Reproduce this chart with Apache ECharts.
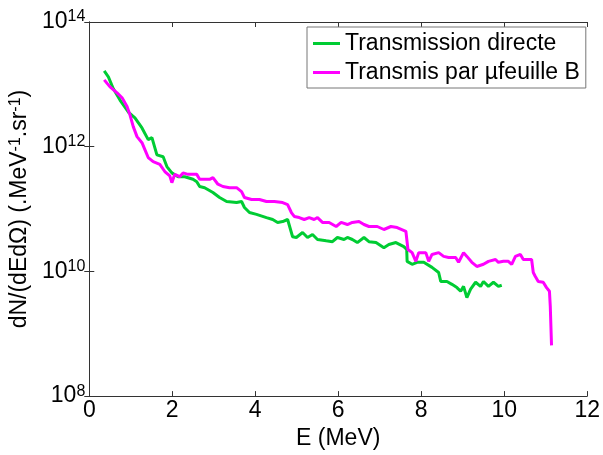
<!DOCTYPE html>
<html>
<head>
	<meta charset="UTF-8">
	<title></title>
	<script src="https://cdn.jsdelivr.net/npm/echarts@6/dist/echarts.min.js"></script>
	<style>
		html, body { margin: 0; padding: 0; background: #fff; }
	</style>
</head>
<body>
	<div id="main" style="width: 603px;height:455px;"></div>
	<script type="text/javascript">
		// Transmission directe
		var directE = [0.36, 0.46, 0.58, 0.74, 0.94, 1.10, 1.27, 1.42, 1.51, 1.63, 1.78, 1.87, 1.99, 2.14, 2.30, 2.50, 2.59, 2.66, 2.78, 2.98,
			3.14, 3.31, 3.55, 3.67, 3.74, 3.86, 4.03, 4.27, 4.42, 4.54, 4.66, 4.78, 4.90, 4.99, 5.14, 5.26, 5.38, 5.50, 5.71, 5.86,
			5.98, 6.14, 6.22, 6.34, 6.46, 6.62, 6.74, 6.91, 7.10, 7.22, 7.39, 7.58, 7.65, 7.66, 7.78, 7.90, 8.06, 8.26, 8.42, 8.47,
			8.62, 8.74, 8.86, 8.95, 9.02, 9.10, 9.19, 9.31, 9.43, 9.50, 9.62, 9.74, 9.86, 9.94];
		var directN = [1.64e13, 1.32e13, 8.5e12, 5.6e12, 3.6e12, 2.9e12, 2.0e12, 1.3e12, 1.4e12, 7.4e11, 6.9e11, 4.8e11, 3.8e11, 3.3e11, 3.3e11, 3.0e11, 2.75e11, 2.3e11, 2.2e11, 1.84e11,
			1.53e11, 1.32e11, 1.27e11, 1.32e11, 1.06e11, 8.8e10, 8.2e10, 7.3e10, 6.8e10, 6.1e10, 6.3e10, 6.8e10, 3.6e10, 3.5e10, 4.2e10, 3.5e10, 3.9e10, 3.25e10, 3.1e10, 3.0e10,
			3.5e10, 3.25e10, 3.5e10, 3.25e10, 2.9e10, 3.5e10, 3.0e10, 2.9e10, 2.4e10, 2.7e10, 2.9e10, 2.5e10, 2.25e10, 1.45e10, 1.3e10, 1.4e10, 1.4e10, 1.16e10, 9.6e9, 6.9e9,
			6.9e9, 6.2e9, 5.5e9, 4.8e9, 5.75e9, 3.8e9, 5.2e9, 6.7e9, 5.75e9, 6.9e9, 5.75e9, 6.7e9, 5.75e9, 6.0e9];

		// Transmis par µfeuille B
		var feuilleE = [0.36, 0.50, 0.67, 0.79, 0.91, 0.98, 1.06, 1.15, 1.27, 1.34, 1.42, 1.54, 1.70, 1.82, 1.94, 1.99, 2.06, 2.18, 2.26, 2.38,
			2.59, 2.66, 2.90, 2.98, 3.10, 3.22, 3.38, 3.55, 3.67, 3.74, 3.91, 4.10, 4.27, 4.46, 4.66, 4.78, 4.87, 4.94, 5.06, 5.18,
			5.30, 5.42, 5.50, 5.62, 5.78, 5.95, 6.07, 6.22, 6.34, 6.50, 6.62, 6.74, 6.94, 7.10, 7.27, 7.42, 7.63, 7.68, 7.78, 7.87,
			7.94, 8.11, 8.18, 8.26, 8.42, 8.54, 8.66, 8.83, 8.90, 9.02, 9.10, 9.22, 9.34, 9.50, 9.62, 9.79, 9.86, 9.98, 10.10, 10.18,
			10.27, 10.39, 10.46, 10.66, 10.70, 10.75, 10.82, 10.94, 11.02, 11.09, 11.11, 11.14];
		var feuilleN = [1.18e13, 9.1e12, 7.3e12, 6.1e12, 4.4e12, 3.25e12, 2.1e12, 1.45e12, 1.16e12, 9.0e11, 6.7e11, 5.75e11, 5.2e11, 4.0e11, 3.4e11, 2.65e11, 3.6e11, 3.3e11, 3.8e11, 3.6e11,
			3.6e11, 3.0e11, 3.0e11, 3.2e11, 2.5e11, 2.3e11, 2.2e11, 2.2e11, 1.9e11, 1.53e11, 1.42e11, 1.42e11, 1.32e11, 1.32e11, 1.27e11, 1.18e11, 8.8e10, 7.6e10, 7.3e10, 6.8e10,
			7.3e10, 6.8e10, 7.3e10, 6.1e10, 6.1e10, 5.25e10, 6.1e10, 5.65e10, 6.1e10, 6.3e10, 5.65e10, 5.25e10, 5.25e10, 4.7e10, 5.25e10, 5.05e10, 4.4e10, 2.25e10, 2.0e10, 1.45e10,
			2.0e10, 2.0e10, 1.45e10, 1.87e10, 2.0e10, 1.74e10, 1.67e10, 1.67e10, 1.4e10, 2.0e10, 1.74e10, 1.4e10, 1.2e10, 1.3e10, 1.45e10, 1.55e10, 1.4e10, 1.45e10, 1.45e10, 1.3e10,
			1.74e10, 1.87e10, 1.55e10, 1.55e10, 9.6e9, 8.3e9, 6.9e9, 6.7e9, 5.5e9, 4.8e9, 2.75e9, 6.5e8];

		var seriesNames = ['Transmission directe', 'Transmis par µfeuille B'];
		var xTicks = [0, 2, 4, 6, 8, 10, 12];

		function pairs(xs, ys) {
			return xs.map(function(x, i) { return [x, ys[i]]; });
		}

		var font = 'Liberation Sans, Arial, sans-serif';
		var axisColor = '#333';

		var myChart = echarts.init(document.getElementById('main'), null, { renderer: 'canvas' });

		function powLabel(v) {
			return '{b|10}{s|' + Math.round(Math.log10(v)) + '}';
		}
		var powRich = {
			b: { fontSize: 23, fontFamily: font, color: '#000', lineHeight: 26 },
			s: { fontSize: 16, fontFamily: font, color: '#000', lineHeight: 11, verticalAlign: 'top' }
		};

		var option = {
			backgroundColor: '#fff',
			animation: false,
			grid: { left: 89, right: 14, top: 22, bottom: 58 },
			legend: {
				orient: 'vertical',
				left: 307,
				top: 27,
				padding: [4, 6, 3, 6],
				itemGap: 4,
				itemWidth: 27,
				itemHeight: 3,
				icon: 'rect',
				borderColor: '#777',
				borderWidth: 1,
				backgroundColor: '#fff',
				textStyle: { fontSize: 23, fontFamily: font, color: '#000', lineHeight: 25 },
				data: seriesNames
			},
			xAxis: [{
				type: 'value',
				min: 0,
				max: 12,
				interval: 2,
				name: 'E (MeV)',
				nameLocation: 'middle',
				nameGap: 29,
				nameTextStyle: { fontSize: 23, fontFamily: font, color: '#000' },
				axisLine: { lineStyle: { color: axisColor, width: 1 } },
				axisTick: { inside: true, length: 5, lineStyle: { color: axisColor } },
				axisLabel: { fontSize: 23, fontFamily: font, color: '#000', margin: 3,
					formatter: function(v) { return xTicks.indexOf(v) >= 0 ? String(v) : ''; } },
				splitLine: { show: false }
			}, {
				type: 'value',
				position: 'top',
				min: 0,
				max: 12,
				interval: 2,
				axisLine: { lineStyle: { color: axisColor, width: 1 } },
				axisTick: { inside: true, length: 5, lineStyle: { color: axisColor } },
				axisLabel: { show: false },
				splitLine: { show: false }
			}],
			yAxis: [{
				type: 'log',
				logBase: 100,
				min: 1e8,
				max: 1e14,
				name: 'dN/(dEd\u03A9) (.MeV{s|-1}.sr{s|-1})',
				nameLocation: 'middle',
				nameGap: 51,
				nameTextStyle: {
					fontSize: 23, fontFamily: font, color: '#000',
					rich: {
						s: { fontSize: 16, fontFamily: font, color: '#000', lineHeight: 11, verticalAlign: 'top' }
					}
				},
				axisLine: { lineStyle: { color: axisColor, width: 1 } },
				axisTick: { inside: true, length: 5, lineStyle: { color: axisColor } },
				axisLabel: { margin: 4, formatter: powLabel, rich: powRich },
				minorTick: { show: false },
				splitLine: { show: false }
			}, {
				type: 'log',
				logBase: 100,
				min: 1e8,
				max: 1e14,
				position: 'right',
				axisLine: { lineStyle: { color: axisColor, width: 1 } },
				axisTick: { inside: true, length: 5, lineStyle: { color: axisColor } },
				axisLabel: { show: false },
				splitLine: { show: false }
			}],
			series: [{
				name: seriesNames[0],
				type: 'line',
				symbol: 'none',
				color: '#00cc33',
				lineStyle: { width: 3, color: '#00cc33' },
				data: pairs(directE, directN)
			}, {
				name: seriesNames[1],
				type: 'line',
				symbol: 'none',
				color: '#ff00ff',
				lineStyle: { width: 3, color: '#ff00ff' },
				data: pairs(feuilleE, feuilleN)
			}]
		};
		myChart.setOption(option);
	</script>
</body>
</html>
